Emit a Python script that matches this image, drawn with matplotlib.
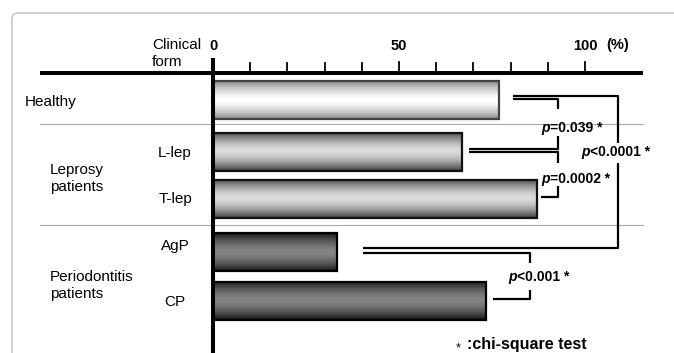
import numpy as np
import matplotlib.pyplot as plt
from matplotlib.colors import LinearSegmentedColormap
from matplotlib.patches import FancyBboxPatch

# data (percent)
groups = [["Healthy"], ["Leprosy", "patients"], ["Periodontitis", "patients"]]
forms = ["", "L-lep", "T-lep", "AgP", "CP"]
values = [76.9, 66.9, 87.1, 33.3, 73.4]
bar_group = [0, 1, 1, 2, 2]
ticks_major = [0, 50, 100]
tick_labels = ["0", "50", "100"]
p_labels = ["p=0.039 *", "p=0.0002 *", "p<0.0001 *", "p<0.001 *"]

# layout: x in percent, y in pixels from top
X0 = 213.0
PX = 3.72
W, H = 674, 353
bar_y = [100, 151.5, 198.5, 252, 300.5]
bar_h = 38
FONT = "Liberation Sans"

def px(x):
    return (x - X0) / PX

# gradient (edge colour, centre colour, border colour) for each group
shades = [("#8a8a8a", "#ffffff", "#444444"),
          ("#4a4a4a", "#dcdcdc", "#111111"),
          ("#1a1a1a", "#858585", "#000000")]

fig = plt.figure(figsize=(W / 100, H / 100), dpi=100)

# background axes in pixels, for the rounded frame
bg = fig.add_axes([0, 0, 1, 1])
bg.set_xlim(0, W)
bg.set_ylim(H, 0)
bg.axis("off")
bg.add_patch(FancyBboxPatch((12, 13), 700, 400,
                            boxstyle="round,pad=0,rounding_size=6",
                            fc="none", ec="#bdbdbd", lw=1.0))

ax = fig.add_axes([0, 0, 1, 1])
ax.patch.set_alpha(0)
ax.axis("off")

# bars with vertical gradient
t = np.linspace(-1, 1, 64)
prof = 1 - np.abs(t) ** 1.6
for v, y, g in zip(values, bar_y, bar_group):
    edge, centre, border = shades[g]
    cmap = LinearSegmentedColormap.from_list("g%d" % g, [edge, centre])
    img = ax.imshow(prof[:, None], cmap=cmap, vmin=0, vmax=1, aspect="auto",
                    extent=(0, v, y + bar_h / 2, y - bar_h / 2), zorder=2,
                    interpolation="bilinear")
    rect = plt.Rectangle((0, y - bar_h / 2), v, bar_h, fc="none", ec=border,
                         lw=1.6, zorder=3)
    ax.add_patch(rect)
    img.set_clip_path(rect)
ax.set_xlim(px(0), px(W))
ax.set_ylim(H, 0)

# axis lines
ax.plot([px(40), px(643)], [73.3, 73.3], color="black", lw=2.9, zorder=4,
        solid_capstyle="butt")
ax.plot([0, 0], [58, H], color="black", lw=2.9, zorder=4, solid_capstyle="butt")
for x in range(10, 101, 10):
    top = 61.7 if x in ticks_major else 63
    ax.plot([x, x], [top, 73.3], color="black", lw=1.3, zorder=4)

# group dividers
for y in [124, 225]:
    ax.plot([px(40), px(643)], [y, y], color="#aaaaaa", lw=0.8, zorder=1)

# tick labels
for x, lab in zip(ticks_major, tick_labels):
    ax.text(x, 46, lab, ha="center", va="center", fontsize=10.5,
            fontweight="bold", family=FONT)
ax.text(px(618), 45, "(%)", ha="center", va="center", fontsize=10.5,
        fontweight="bold", family=FONT)
ax.text(px(152), 45, "Clinical", ha="left", va="center", fontsize=11,
        family=FONT)
ax.text(px(152), 62, "form", ha="left", va="center", fontsize=11,
        family=FONT)

# row labels
group_y = [[102], [170, 187], [277, 294]]
group_x = [25, 50, 50]
for lines, ys, gx in zip(groups, group_y, group_x):
    for s, y in zip(lines, ys):
        ax.text(px(gx), y, s, ha="left", va="center", fontsize=11, family=FONT)
form_y = [None, 153, 199, 246, 302]
for f, y in zip(forms, form_y):
    if f:
        ax.text(px(175), y, f, ha="center", va="center", fontsize=11,
                family=FONT)

# significance brackets
def line(xs, ys):
    ax.plot([px(x) for x in xs], ys, color="black", lw=1.6, zorder=4,
            solid_capstyle="butt")

# healthy vs L-lep
line([513, 558, 558], [98.7, 98.7, 109])
line([558, 558, 469], [136, 149, 149])
# L-lep vs T-lep
line([469, 558, 558], [152, 152, 163])
line([558, 558, 541], [186, 197, 197])
# healthy vs AgP
line([513, 618, 618], [95.7, 95.7, 143])
line([618, 618, 363], [163, 248, 248])
# AgP vs CP
line([363, 530, 530], [252.5, 252.5, 263])
line([530, 530, 493], [290, 299, 299])

def plabel(x, y, s):
    ax.text(px(x), y, s[0], ha="right", va="center", fontsize=10,
            fontweight="bold", style="italic", family=FONT)
    ax.text(px(x), y, s[1:], ha="left", va="center", fontsize=10,
            fontweight="bold", family=FONT)

plabel(550, 128, p_labels[0])
plabel(550, 179, p_labels[1])
plabel(590, 152, p_labels[2])
plabel(517, 277, p_labels[3])

ax.text(px(458), 348, "*", ha="center", va="center", fontsize=9,
        family=FONT)
ax.text(px(467), 345, ":chi-square test", ha="left", va="center",
        fontsize=11.5, fontweight="bold", family=FONT)

fig.savefig("out.png", dpi=100)
